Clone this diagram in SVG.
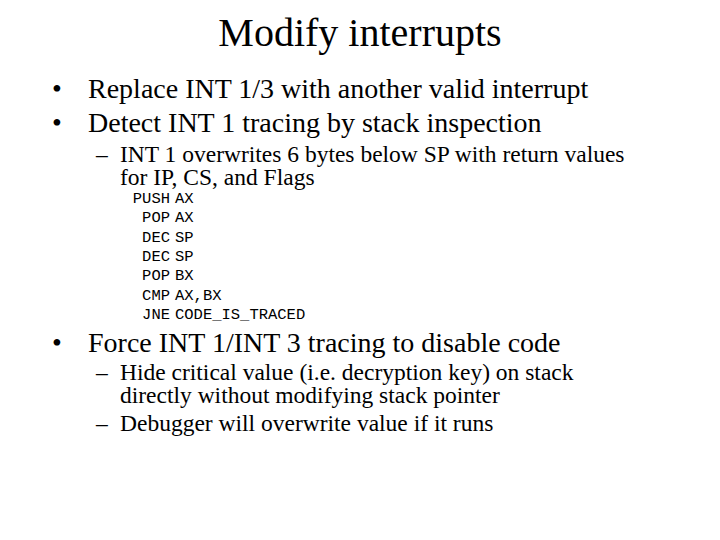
<svg xmlns="http://www.w3.org/2000/svg" width="720" height="540" viewBox="0 0 720 540">
<style>
text{font-family:"Liberation Serif",serif;fill:#000}
.t{font-size:40px}
.b{font-size:28px}
.s{font-size:23.5px}
.c{font-family:"Liberation Mono",monospace;font-size:15.5px}
.m{text-anchor:end}
</style>
<rect width="720" height="540" fill="#fff"/>
<g id="title"><text class="t" x="360" y="46" text-anchor="middle">Modify interrupts</text></g>
<g id="b1"><text class="b" x="52" y="98">•</text><text class="b" x="88" y="98">Replace INT 1/3 with another valid interrupt</text></g>
<g id="b2"><text class="b" x="52" y="132">•</text><text class="b" x="88" y="132">Detect INT 1 tracing by stack inspection</text></g>
<g id="s1"><text class="s" x="96" y="162">–</text><text class="s" x="120" y="162">INT 1 overwrites 6 bytes below SP with return values</text><text class="s" x="120" y="185">for IP, CS, and Flags</text></g>
<g id="code">
<text class="c m" x="170" y="203">PUSH</text><text class="c" x="175" y="203">AX</text>
<text class="c m" x="170" y="222">POP</text><text class="c" x="175" y="222">AX</text>
<text class="c m" x="170" y="242">DEC</text><text class="c" x="175" y="242">SP</text>
<text class="c m" x="170" y="261">DEC</text><text class="c" x="175" y="261">SP</text>
<text class="c m" x="170" y="280">POP</text><text class="c" x="175" y="280">BX</text>
<text class="c m" x="170" y="300">CMP</text><text class="c" x="175" y="300">AX,BX</text>
<text class="c m" x="170" y="319">JNE</text><text class="c" x="175" y="319">CODE_IS_TRACED</text>
</g>
<g id="b3"><text class="b" x="52" y="352">•</text><text class="b" x="88" y="352">Force INT 1/INT 3 tracing to disable code</text></g>
<g id="s2"><text class="s" x="96" y="380">–</text><text class="s" x="120" y="380">Hide critical value (i.e. decryption key) on stack</text><text class="s" x="120" y="403">directly without modifying stack pointer</text></g>
<g id="s3"><text class="s" x="96" y="431">–</text><text class="s" x="120" y="431">Debugger will overwrite value if it runs</text></g>
</svg>
